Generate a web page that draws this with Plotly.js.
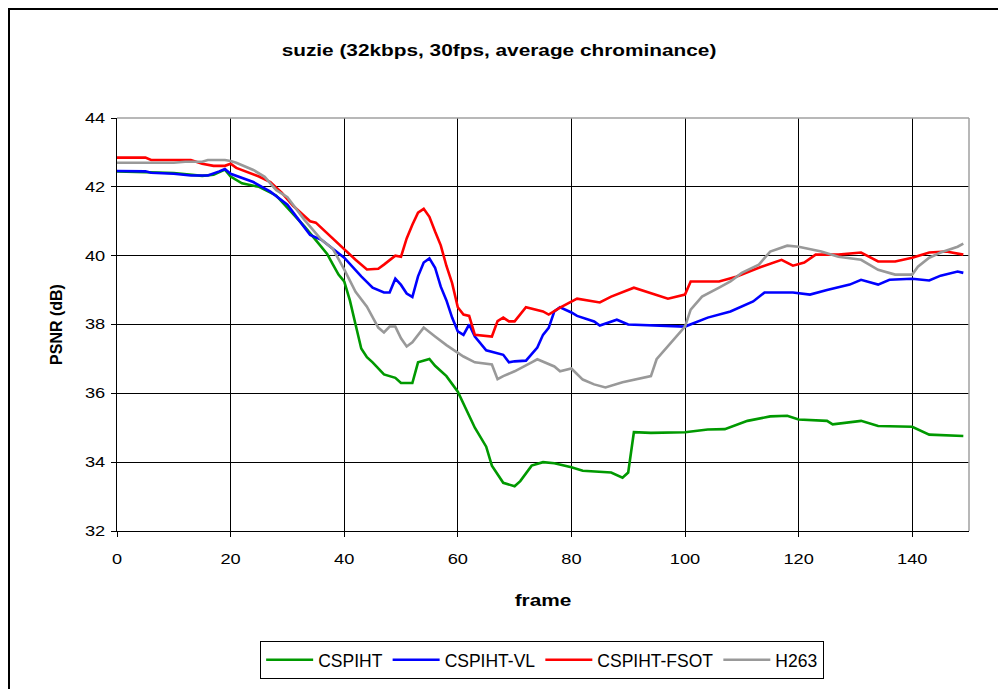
<!DOCTYPE html>
<html>
<head>
<meta charset="utf-8">
<script src="https://cdn.plot.ly/plotly-3.0.1.min.js"></script>
<style>
  html, body { margin: 0; padding: 0; background: #fff; }
  #wrap { position: relative; width: 998px; height: 689px; overflow: hidden; }
  #chart { position: absolute; left: 0; top: 0; width: 998px; height: 689px; }
  #frame { position: absolute; left: 8px; top: 8px; width: 1100px; height: 800px;
           border-left: 2px solid #000; border-top: 2px solid #000; pointer-events: none; }
</style>
</head>
<body>
<div id="wrap">
  <div id="chart"></div>
  <div id="frame"></div>
</div>
<script>
// ---- data ----
const chartTitle = "suzie (32kbps, 30fps, average chrominance)";
const xTitle = "frame";
const yTitle = "PSNR (dB)";
const seriesNames = ["CSPIHT", "CSPIHT-VL", "CSPIHT-FSOT", "H263"];

const cspihtFrames = [0, 5, 10, 15, 17, 19, 20, 22, 25, 28, 30, 33, 35, 37, 38, 39, 40, 41, 42, 43, 44, 45, 47, 49, 50, 52, 53, 55, 56, 58, 60, 63, 65, 66, 68, 70, 71, 73, 75, 77, 80, 82, 87, 89, 90, 91, 94, 100, 104, 107, 111, 115, 118, 120, 125, 126, 131, 134, 140, 143, 149];
const cspihtPSNR = [42.45, 42.43, 42.4, 42.32, 42.35, 42.5, 42.3, 42.1, 42.0, 41.75, 41.4, 40.85, 40.45, 40.05, 39.75, 39.45, 39.25, 38.7, 38.0, 37.3, 37.05, 36.9, 36.55, 36.45, 36.3, 36.3, 36.9, 37.0, 36.8, 36.5, 36.05, 35.0, 34.45, 33.9, 33.4, 33.3, 33.45, 33.9, 34.0, 33.97, 33.85, 33.75, 33.7, 33.55, 33.7, 34.87, 34.85, 34.87, 34.95, 34.96, 35.2, 35.33, 35.35, 35.24, 35.2, 35.1, 35.2, 35.05, 35.03, 34.8, 34.76];

const vlFrames = [0, 5, 6, 10, 13, 16, 18, 19, 20, 22, 24, 27, 30, 32, 34, 36, 38, 40, 43, 45, 47, 48, 49, 50, 51, 52, 53, 54, 55, 56, 57, 58, 59, 60, 61, 62, 63, 65, 68, 69, 70, 72, 74, 75, 76, 77, 78, 80, 81, 84, 85, 88, 90, 96, 100, 104, 108, 112, 114, 119, 122, 125, 129, 131, 134, 136, 140, 143, 145, 148, 149];
const vlPSNR = [42.46, 42.45, 42.41, 42.38, 42.33, 42.33, 42.45, 42.52, 42.38, 42.26, 42.14, 41.86, 41.48, 41.04, 40.6, 40.46, 40.2, 39.94, 39.4, 39.07, 38.93, 38.93, 39.33, 39.15, 38.9, 38.8, 39.4, 39.8, 39.92, 39.65, 39.1, 38.7, 38.2, 37.8, 37.7, 38.0, 37.65, 37.25, 37.12, 36.9, 36.93, 36.95, 37.33, 37.7, 37.9, 38.38, 38.5, 38.35, 38.25, 38.09, 37.97, 38.14, 38.0, 37.97, 37.94, 38.2, 38.38, 38.67, 38.93, 38.93, 38.87, 39.0, 39.16, 39.3, 39.16, 39.3, 39.33, 39.28, 39.42, 39.54, 39.5];

const fsotFrames = [0, 5, 6, 13, 15, 17, 19, 20, 21, 23, 25, 27, 29, 31, 34, 35, 37, 40, 42, 44, 46, 47, 49, 50, 51, 52, 53, 54, 55, 56, 57, 58, 59, 60, 61, 62, 63, 66, 67, 68, 69, 70, 71, 72, 75, 76, 78, 81, 85, 87, 91, 94, 97, 100, 101, 106, 109, 113, 117, 119, 121, 123, 127, 131, 134, 137, 140, 143, 146, 149];
const fsotPSNR = [42.85, 42.85, 42.78, 42.78, 42.67, 42.61, 42.61, 42.67, 42.55, 42.43, 42.3, 42.14, 41.83, 41.45, 41.0, 40.96, 40.65, 40.2, 39.88, 39.6, 39.62, 39.74, 40.0, 39.97, 40.5, 40.9, 41.25, 41.36, 41.13, 40.7, 40.3, 39.7, 39.2, 38.5, 38.29, 38.25, 37.7, 37.65, 38.1, 38.2, 38.09, 38.09, 38.3, 38.5, 38.38, 38.29, 38.49, 38.75, 38.64, 38.81, 39.07, 38.9, 38.75, 38.87, 39.25, 39.25, 39.39, 39.65, 39.88, 39.71, 39.8, 40.03, 40.03, 40.09, 39.83, 39.83, 39.94, 40.09, 40.12, 40.03];

const h263Frames = [0, 10, 12, 15, 16, 19, 20, 21, 24, 26, 28, 30, 33, 36, 38, 40, 42, 44, 46, 47, 48, 49, 50, 51, 52, 53, 54, 56, 58, 61, 63, 66, 67, 68, 70, 73, 74, 77, 78, 80, 82, 84, 86, 89, 94, 95, 97, 100, 101, 103, 106, 108, 110, 113, 115, 118, 120, 124, 127, 131, 134, 137, 140, 141, 143, 145, 148, 149];
const h263PSNR = [42.7, 42.7, 42.73, 42.73, 42.78, 42.78, 42.75, 42.7, 42.49, 42.29, 41.91, 41.7, 41.04, 40.46, 40.2, 39.6, 38.95, 38.52, 37.91, 37.77, 37.94, 37.94, 37.6, 37.36, 37.48, 37.7, 37.91, 37.65, 37.4, 37.07, 36.9, 36.84, 36.41, 36.5, 36.64, 36.9, 36.99, 36.78, 36.64, 36.72, 36.4, 36.26, 36.17, 36.32, 36.5, 36.99, 37.36, 37.94, 38.43, 38.81, 39.07, 39.25, 39.5, 39.74, 40.12, 40.29, 40.26, 40.12, 39.97, 39.88, 39.59, 39.45, 39.45, 39.68, 39.94, 40.09, 40.26, 40.35];

const seriesColors = ["#009900", "#0000ff", "#ff0000", "#999999"];

const frameSets = [cspihtFrames, vlFrames, fsotFrames, h263Frames];
const valueSets = [cspihtPSNR, vlPSNR, fsotPSNR, h263PSNR];

const traces = seriesNames.map((name, i) => ({
  type: "scatter",
  mode: "lines",
  name: name,
  x: frameSets[i],
  y: valueSets[i],
  line: { color: seriesColors[i], width: 2.6 },
  hoverinfo: "skip"
}));

const font = "Arial, 'Liberation Sans', sans-serif";

const layout = {
  width: 998,
  height: 689,
  paper_bgcolor: "rgba(0,0,0,0)",
  plot_bgcolor: "#ffffff",
  margin: { l: 117, r: 29, t: 118, b: 157 },
  showlegend: true,
  title: {
    text: "<b>" + chartTitle + "</b>",
    font: { family: font, size: 16, color: "#000" },
    xref: "container", x: 0.5, xanchor: "center",
    yref: "container", y: 1 - 50 / 689, yanchor: "middle"
  },
  xaxis: {
    range: [0, 150],
    tick0: 0, dtick: 20,
    showgrid: true, gridcolor: "#000", gridwidth: 1,
    zeroline: false,
    showline: true, linecolor: "#000", linewidth: 1,
    ticks: "outside", ticklen: 5, tickcolor: "#000",
    ticklabelstandoff: 10,
    tickfont: { family: font, size: 14, color: "#000" },
    title: { text: "<b>" + xTitle + "</b>", font: { family: font, size: 16, color: "#000" }, standoff: 29 },
    fixedrange: true
  },
  yaxis: {
    range: [32, 44],
    tick0: 32, dtick: 2,
    showgrid: true, gridcolor: "#000", gridwidth: 1,
    zeroline: false,
    showline: true, linecolor: "#000", linewidth: 1,
    ticks: "outside", ticklen: 5, tickcolor: "#000",
    ticklabelstandoff: 3,
    tickfont: { family: font, size: 14, color: "#000" },
    title: { text: "<b>" + yTitle + "</b>", font: { family: font, size: 16, color: "#000" }, standoff: 23 },
    fixedrange: true
  },
  shapes: [
    { type: "line", xref: "paper", yref: "paper", x0: 0, x1: 1, y0: 1, y1: 1, line: { color: "#a0a0a0", width: 1.5 }, layer: "above" },
    { type: "line", xref: "paper", yref: "paper", x0: 1, x1: 1, y0: 0, y1: 1, line: { color: "#a0a0a0", width: 1.5 }, layer: "above" }
  ],
  legend: {
    orientation: "h",
    x: 0.499, xanchor: "center",
    y: -0.263, yanchor: "top",
    bordercolor: "#000", borderwidth: 1,
    bgcolor: "#fff",
    font: { family: font, size: 17.5, color: "#000" },
    itemwidth: 47,
    tracegroupgap: 0
  }
};

// The reference's lettering is stretched horizontally (about 1.3x); reproduce that on
// the title, the x-axis title and the tick labels with SVG textLength.
function stretchText(gd) {
  const sel = ".gtitle, .xtitle, .xtick text, .ytick text";
  gd.querySelectorAll(sel).forEach(t => {
    const node = t.tagName.toLowerCase() === "text" ? t : t.querySelector("text") || t;
    const w = node.getComputedTextLength ? node.getComputedTextLength() : 0;
    if (w > 0) {
      node.setAttribute("textLength", (w * 1.3).toFixed(1));
      node.setAttribute("lengthAdjust", "spacingAndGlyphs");
    }
  });
}

Plotly.newPlot("chart", traces, layout, { staticPlot: true, displayModeBar: false })
  .then(gd => stretchText(gd));
</script>
</body>
</html>
